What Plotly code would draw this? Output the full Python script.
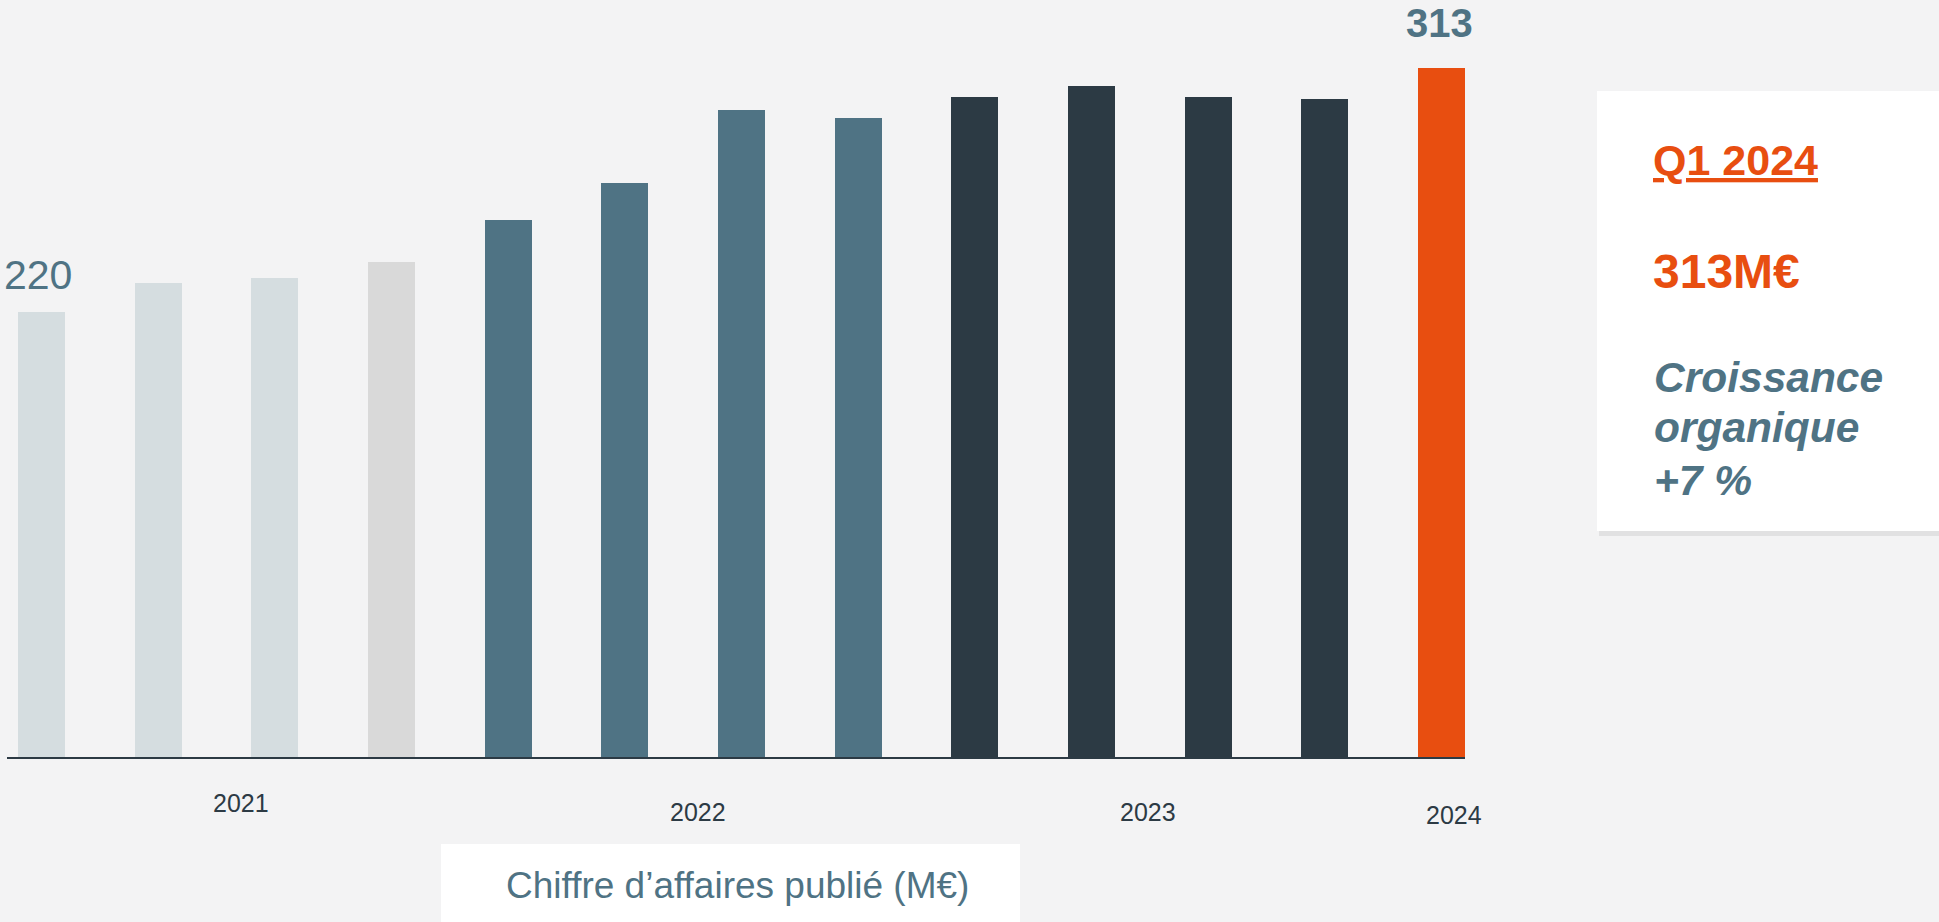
import plotly.graph_objects as go

# ---- data ----
quarters = ["T1 2021", "T2 2021", "T3 2021", "T4 2021",
            "T1 2022", "T2 2022", "T3 2022", "T4 2022",
            "T1 2023", "T2 2023", "T3 2023", "T4 2023",
            "T1 2024"]
revenue = [220, 231, 233, 239, 255, 269, 297, 294, 302, 306, 302, 301, 313]
year_labels = ["2021", "2022", "2023", "2024"]
card_period = "Q1 2024"
card_value = "313M€"
card_growth = ["Croissance", "organique", "+7 %"]
chart_title = "Chiffre d’affaires publié (M€)"

# ---- style ----
LIGHT = "#D5DDE0"
GREY = "#D9D9D9"
MID = "#4F7384"
DARK = "#2C3A44"
ORANGE = "#E84E10"
bar_colors = [LIGHT, LIGHT, LIGHT, GREY, MID, MID, MID, MID,
              DARK, DARK, DARK, DARK, ORANGE]
FONT = "Liberation Sans, Arial, sans-serif"
BG = "#F3F3F4"

x_idx = list(range(len(quarters)))

fig = go.Figure()
fig.add_trace(go.Bar(
    x=x_idx, y=revenue, width=0.403,
    marker=dict(color=bar_colors, line=dict(width=0)),
    hovertext=quarters, hoverinfo="text+y",
    showlegend=False,
))

annotations = []
# value labels on first and last bar
annotations.append(dict(x=x_idx[0], y=revenue[0], xref="x", yref="y",
                        text=str(revenue[0]), showarrow=False,
                        xanchor="center", yanchor="middle", xshift=-4, yshift=37,
                        font=dict(family=FONT, size=41, color=MID)))
annotations.append(dict(x=x_idx[-1], y=revenue[-1], xref="x", yref="y",
                        text="<b>%d</b>" % revenue[-1], showarrow=False,
                        xanchor="center", yanchor="middle", xshift=-2, yshift=45,
                        font=dict(family=FONT, size=40, color=MID)))

# year labels (positions between the quarter bars)
year_x = [1.71, 5.63, 9.48, 12.11]
year_shift = [-46, -55, -55, -58]
for lab, xx, ys in zip(year_labels, year_x, year_shift):
    annotations.append(dict(x=xx, y=0, xref="x", yref="paper", text=lab,
                            showarrow=False, xanchor="center", yanchor="middle",
                            yshift=ys, font=dict(family=FONT, size=25, color=DARK)))

# plot area: left 7, right 1465, top 30, bottom 757  (w 1458, h 727)
L, R, T, B = 7, 1465, 30, 757
W, H = R - L, B - T


def px(xp):
    return (xp - L) / W


def py(yp):
    return (B - yp) / H


# title box
annotations.append(dict(x=px(737.5), y=py(886), xref="paper", yref="paper",
                        text=chart_title, showarrow=False, xanchor="center",
                        yanchor="middle",
                        font=dict(family=FONT, size=37, color=MID)))

# card texts
annotations.append(dict(x=px(1651), y=py(160), xref="paper", yref="paper",
                        text="<b><u>%s</u></b>" % card_period, showarrow=False,
                        xanchor="left", yanchor="middle",
                        font=dict(family=FONT, size=43, color=ORANGE)))
annotations.append(dict(x=px(1651), y=py(271), xref="paper", yref="paper",
                        text="<b>%s</b>" % card_value, showarrow=False,
                        xanchor="left", yanchor="middle",
                        font=dict(family=FONT, size=48, color=ORANGE)))
for line, cy in zip(card_growth, [377, 428, 480]):
    annotations.append(dict(x=px(1652), y=py(cy), xref="paper", yref="paper",
                            text="<b><i>%s</i></b>" % line, showarrow=False,
                            xanchor="left", yanchor="middle",
                            font=dict(family=FONT, size=42.5, color=MID)))

shapes = [
    # title box
    dict(type="rect", xref="paper", yref="paper",
         x0=px(441), x1=px(1020), y0=py(844), y1=py(930),
         fillcolor="white", line=dict(width=0), layer="below"),
    # card shadow
    dict(type="rect", xref="paper", yref="paper",
         x0=px(1599), x1=px(1945), y0=py(94), y1=py(536),
         fillcolor="rgba(0,0,0,0.07)", line=dict(width=0), layer="below"),
    # card
    dict(type="rect", xref="paper", yref="paper",
         x0=px(1597), x1=px(1945), y0=py(91), y1=py(531),
         fillcolor="white", line=dict(width=0), layer="below"),
]

a = 2.624  # px per unit
y0 = 50.4
fig.update_layout(
    width=1939, height=922,
    margin=dict(l=L, r=1939 - R, t=T, b=922 - B, pad=0),
    paper_bgcolor=BG, plot_bgcolor=BG,
    xaxis=dict(range=[-34.5 / 116.67, 12 + 23.5 / 116.67], showticklabels=False,
               showgrid=False, zeroline=False, showline=True,
               linecolor=DARK, linewidth=2, ticks=""),
    yaxis=dict(range=[y0, y0 + H / a], showticklabels=False, showgrid=False,
               zeroline=False, showline=False),
    annotations=annotations,
    shapes=shapes,
    bargap=0,
)

fig.write_html(
    "out.html",
    config={"displayModeBar": False},
    post_script="document.body.style.margin='0';"
                "document.body.style.overflow='hidden';"
                "document.body.style.background='%s';" % BG,
)
